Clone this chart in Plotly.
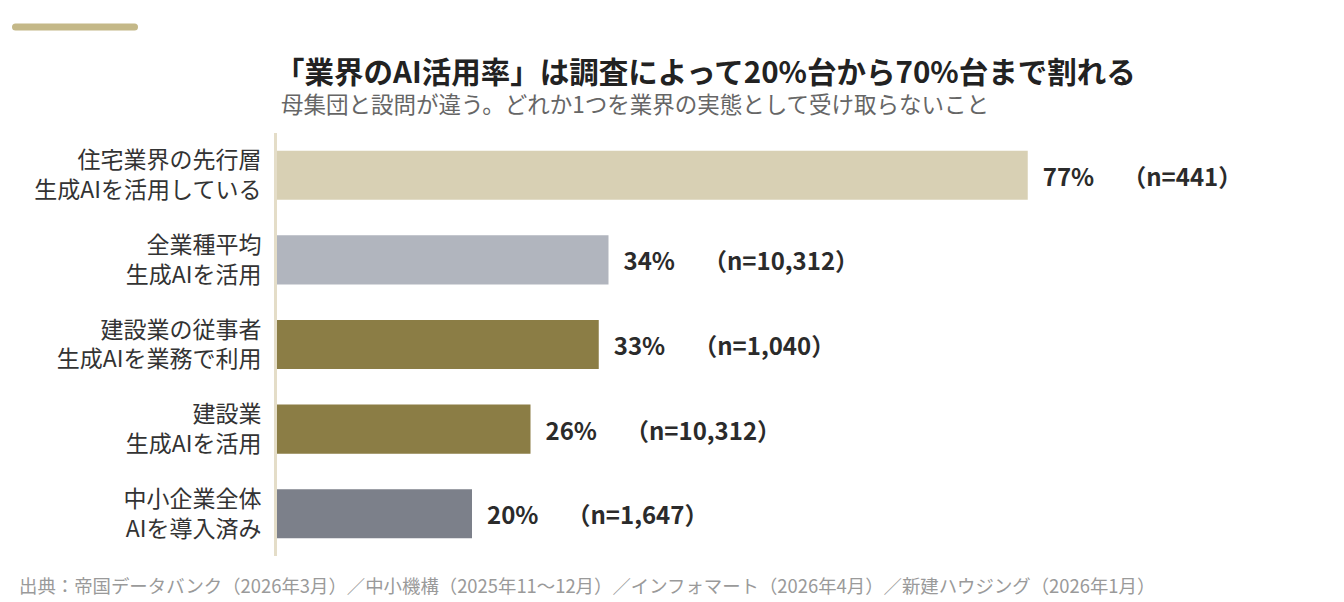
import plotly.graph_objects as go

categories = [
    "住宅業界の先行層<br>生成AIを活用している",
    "全業種平均<br>生成AIを活用",
    "建設業の従事者<br>生成AIを業務で利用",
    "建設業<br>生成AIを活用",
    "中小企業全体<br>AIを導入済み",
]
values = [77, 34, 33, 26, 20]
sample_sizes = ["441", "10,312", "1,040", "10,312", "1,647"]

bar_colors = ["#d8d0b4", "#b1b5be", "#8b7d45", "#8b7d45", "#7c808a"]
FONT = "Noto Sans CJK JP"

# the page body adds an 8px offset, so the figure is drawn 8px smaller
W, H = 1336, 594
L, R, T, B = 269, 92, 125, 46
PW, PH = W - L - R, H - T - B


def fx(px):
    # reference pixel x -> plot-area paper fraction
    return (px - 8 - L) / PW


def fy(py):
    return (H - B - (py - 8)) / PH


labels = [f"<b>\u2002{v}%\u3000\u2006（n={n}）</b>" for v, n in zip(values, sample_sizes)]

fig = go.Figure()
fig.add_trace(go.Bar(
    x=values,
    y=categories,
    orientation="h",
    marker=dict(color=bar_colors, line=dict(width=0)),
    width=0.58,
    text=labels,
    textposition="outside",
    cliponaxis=False,
    textfont=dict(family=FONT, size=24, color="#2b2b2b"),
    hoverinfo="skip",
))

fig.update_layout(
    width=W,
    height=H,
    paper_bgcolor="white",
    plot_bgcolor="white",
    margin=dict(l=L, r=R, t=T, b=B),
    showlegend=False,
    font=dict(family=FONT, color="#333333"),
    xaxis=dict(range=[0, 100], visible=False, fixedrange=True),
    yaxis=dict(
        autorange="reversed",
        showgrid=False,
        zeroline=False,
        showline=True,
        linecolor="#e4ddc8",
        linewidth=3,
        ticks="",
        ticklabelstandoff=8,
        tickfont=dict(family=FONT, size=23, color="#333333"),
    ),
)

# accent bar at the top-left (rounded ends)
x0, x1, y0, y1 = fx(12), fx(138), fy(30.5), fy(23.5)
rx = 3.5 / PW
ym = (y0 + y1) / 2
fig.add_shape(
    type="path",
    xref="paper", yref="paper",
    path=(f"M {x0 + rx} {y0} L {x1 - rx} {y0} Q {x1} {y0} {x1} {ym} "
          f"Q {x1} {y1} {x1 - rx} {y1} L {x0 + rx} {y1} Q {x0} {y1} {x0} {ym} "
          f"Q {x0} {y0} {x0 + rx} {y0} Z"),
    fillcolor="#c4b888",
    line=dict(width=0),
)

fig.add_annotation(
    text="<b>「業界のAI活用率」は調査によって20%台から70%台まで割れる</b>",
    xref="paper", yref="paper",
    x=fx(705), y=fy(70),
    xanchor="center", yanchor="middle",
    showarrow=False,
    font=dict(family=FONT, size=29.5, color="#222222"),
)
fig.add_annotation(
    text="母集団と設問が違う。どれか1つを業界の実態として受け取らないこと",
    xref="paper", yref="paper",
    x=fx(279), y=fy(103),
    xanchor="left", yanchor="middle",
    showarrow=False,
    font=dict(family=FONT, size=22.5, color="#666666"),
)
fig.add_annotation(
    text="出典：帝国データバンク（2026年3月）／中小機構（2025年11〜12月）／インフォマート（2026年4月）／新建ハウジング（2026年1月）",
    xref="paper", yref="paper",
    x=fx(17), y=fy(585),
    xanchor="left", yanchor="middle",
    showarrow=False,
    font=dict(family=FONT, size=18.4, color="#9a9a9a"),
)

fig.write_html("out.html")
